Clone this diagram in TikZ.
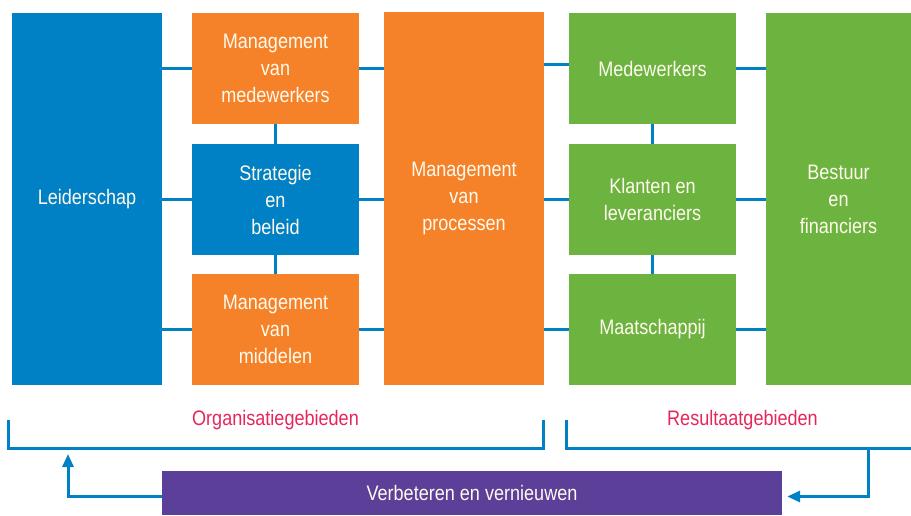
\documentclass[tikz,border=0pt]{standalone}
\usepackage{fontspec}
\setmainfont{Liberation Sans}[FakeStretch=0.86]
\usetikzlibrary{arrows.meta}
\definecolor{cblue}{RGB}{0,128,197}
\definecolor{corange}{RGB}{245,130,41}
\definecolor{cgreen}{RGB}{109,179,63}
\definecolor{cpurple}{RGB}{91,63,152}
\definecolor{cred}{RGB}{230,38,91}
\definecolor{ctext}{RGB}{255,250,238}
\tikzset{
  box/.style={inner sep=0pt, align=center, text=ctext,
    font=\fontsize{21}{27}\selectfont},
  link/.style={draw=cblue, line width=3pt},
  brace/.style={draw=cblue, line width=3pt, line join=miter},
  lbl/.style={text=cred, font=\fontsize{21}{24}\selectfont, inner sep=0pt},
  tip/.style={-{Triangle[length=13pt,width=11pt]}}
}
\begin{document}
\begin{tikzpicture}[x=1pt,y=-1pt]
\useasboundingbox (0,0) rectangle (911,515);
% boxes
\node[box, fill=cblue, minimum width=150pt, minimum height=372pt] (lead) at (87,199) {Leiderschap};
\node[box, fill=corange, minimum width=167pt, minimum height=111pt] (mvm) at (275.5,68.5) {Management\\van\\medewerkers};
\node[box, fill=cblue, minimum width=167pt, minimum height=111pt] (strat) at (275.5,199.5) {Strategie\\en\\beleid};
\node[box, fill=corange, minimum width=167pt, minimum height=111pt] (mmid) at (275.5,329.5) {Management\\van\\middelen};
\node[box, fill=corange, minimum width=160pt, minimum height=373pt] (proc) at (464,198.5) {Management\\van\\processen};
\node[box, fill=cgreen, minimum width=167pt, minimum height=111pt] (medw) at (652.5,68.5) {Medewerkers};
\node[box, fill=cgreen, minimum width=167pt, minimum height=111pt] (klant) at (652.5,199.5) {Klanten en\\leveranciers};
\node[box, fill=cgreen, minimum width=167pt, minimum height=111pt] (maat) at (652.5,329.5) {Maatschappij};
\node[box, fill=cgreen, minimum width=145pt, minimum height=372pt] (best) at (838.5,199) {Bestuur\\en\\financiers};
\node[box, fill=cpurple, minimum width=620pt, minimum height=44pt] (verb) at (472,493) {Verbeteren en vernieuwen};
% labels
\node[lbl] (org) at (275.5,420) {Organisatiegebieden};
\node[lbl] (res) at (742.5,420) {Resultaatgebieden};
% connectors
\draw[link] (lead.east |- mvm.west) -- (mvm.west);
\draw[link] (lead.east |- strat.west) -- (strat.west);
\draw[link] (lead.east |- mmid.west) -- (mmid.west);
\draw[link] (mvm.south) -- (strat.north);
\draw[link] (strat.south) -- (mmid.north);
\draw[link] (mvm.east) -- (proc.west |- mvm.east);
\draw[link] (strat.east) -- (proc.west |- strat.east);
\draw[link] (mmid.east) -- (proc.west |- mmid.east);
\coordinate (mw) at ([yshift=4.5pt]medw.west);
\draw[link] (mw) -- (proc.east |- mw);
\draw[link] (klant.west) -- (proc.east |- klant.west);
\draw[link] (maat.west) -- (proc.east |- maat.west);
\draw[link] (medw.south) -- (klant.north);
\draw[link] (klant.south) -- (maat.north);
\draw[link] (medw.east) -- (best.west |- medw.east);
\draw[link] (klant.east) -- (best.west |- klant.east);
\draw[link] (maat.east) -- (best.west |- maat.east);
% brackets
\coordinate (bl1) at (8,420);
\coordinate (bl2) at (543,420);
\coordinate (br1) at (566,420);
\coordinate (br2) at (911,448);
\coordinate (drop) at (868,448);
\coordinate (up) at (68,454);
\coordinate (ve) at ([xshift=5pt,yshift=-3.5pt]verb.east);
\coordinate (vw) at ([yshift=-3.5pt]verb.west);
\draw[brace] (bl1) -- (8,448) -- (543,448) -- (bl2);
\draw[brace] (br1) -- (566,448) -- (br2);
% feedback arrows
\draw[link, tip] (drop) -- (drop |- ve) -- (ve);
\draw[link, tip] (vw) -- (up |- vw) -- (up);
\end{tikzpicture}
\end{document}
